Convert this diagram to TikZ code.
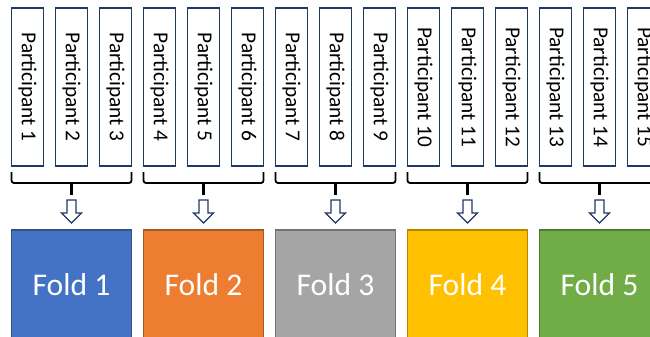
\documentclass[tikz,border=0pt]{standalone}
\usepackage{fontspec}
\setmainfont{Carlito}
\usepackage{graphicx}
\usetikzlibrary{positioning}
\usetikzlibrary{chains}
\definecolor{navy}{HTML}{203864}
\definecolor{foldblue}{HTML}{4472C4}
\definecolor{foldorange}{HTML}{ED7D31}
\definecolor{foldgray}{HTML}{A5A5A5}
\definecolor{foldgold}{HTML}{FFC000}
\definecolor{foldgreen}{HTML}{70AD47}
\newcommand{\pnode}[2]{\node(#1)[part,on chain]{\rotatebox{-90}{Participant #2}}}
\newcommand{\foldgroup}[5]{%
  \draw[brace] ([yshift=-6pt]#2.south west) |- ([yshift=-17pt]#4.south east) -- ([yshift=-6pt]#4.south east);
  \draw[brace,line width=2.6pt] ([yshift=-17pt]#3.south) -- ([yshift=-29pt]#3.south) coordinate (t#1);
  \draw[blockarrow] ([xshift=-4.5pt,yshift=-5pt]t#1) coordinate (a#1) -- ++(9,0) -- ++(0,-13) -- ++(5.5,0)
      -- ++(-10,-10) -- ++(-10,10) -- ++(5.5,0) -- cycle;
  \node(f#1)[fold,fill=#5,draw=#5!70!black,below=64pt of #3]{Fold #1}}

\begin{document}
\begin{tikzpicture}[
        x=1pt, y=1pt,
        part/.style={rectangle,minimum width=32pt,minimum height=158pt,inner sep=0pt,
                     outer sep=0pt,draw=navy,line width=1.2pt,
                     font=\fontsize{21.3}{24}\selectfont},
        fold/.style={rectangle,minimum width=120pt,minimum height=110pt,inner sep=0pt,
                     outer sep=0pt,line width=1.2pt,text=white,
                     font=\fontsize{31.6}{36}\selectfont},
        brace/.style={draw=black,line width=1.8pt,rounded corners=2.5pt},
        blockarrow/.style={draw=navy,fill=white,line width=1.3pt,line join=miter}
      ]
      \useasboundingbox (0,0) rectangle (650,-337);
      \clip (0,0) rectangle (650,-337);
      \begin{scope}[start chain=going right, node distance=12pt, shift={(27.5,-87)}]
        \pnode{p1}{1}; \pnode{p2}{2}; \pnode{p3}{3}; \pnode{p4}{4}; \pnode{p5}{5};
        \pnode{p6}{6}; \pnode{p7}{7}; \pnode{p8}{8}; \pnode{p9}{9}; \pnode{p10}{10};
        \pnode{p11}{11}; \pnode{p12}{12}; \pnode{p13}{13}; \pnode{p14}{14}; \pnode{p15}{15};
      \end{scope}
      \foldgroup{1}{p1}{p2}{p3}{foldblue};
      \foldgroup{2}{p4}{p5}{p6}{foldorange};
      \foldgroup{3}{p7}{p8}{p9}{foldgray};
      \foldgroup{4}{p10}{p11}{p12}{foldgold};
      \foldgroup{5}{p13}{p14}{p15}{foldgreen};
    \end{tikzpicture}
\end{document}
